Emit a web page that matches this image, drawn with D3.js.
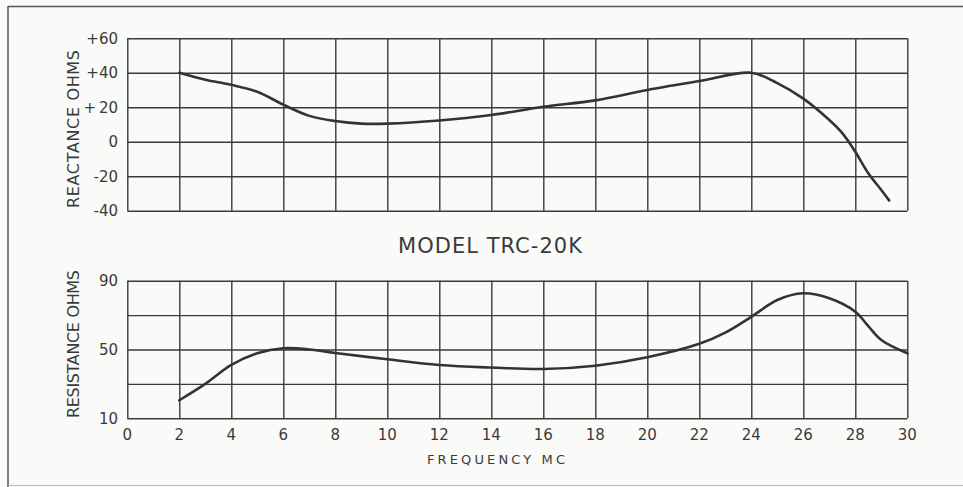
<!DOCTYPE html>
<html lang="en">

<head>
    <meta charset="UTF-8">
    <title>Model TRC-20K</title>
    <style>
        body {
            margin: 0;
            padding: 0;
            background-color: #fafaf8;
        }

        svg {
            display: block;
            font-family: "DejaVu Sans", sans-serif;
        }

        .grid line,
        .grid path {
            stroke: #3a3a3a;
            stroke-width: 1.4;
        }

        .label {
            fill: #3a3a3a;
        }
    </style>
</head>

<body>
    <svg id="chart"></svg>

    <script src="https://d3js.org/d3.v7.min.js"></script>
    <script>
        // reactance curve (top chart)
        const reactFreq = [2, 3, 4, 5, 6, 7, 8, 9, 10, 12, 14, 16, 18, 20, 22, 24, 25, 26, 27, 27.5, 28, 28.5, 29, 29.3];
        const reactance = [40, 36, 33, 29, 21.5, 15, 12, 10.5, 10.5, 12.3, 15.5, 20.3, 24, 30, 35.2, 40, 34, 25, 12.6, 5, -5.8, -18.3, -28, -34];

        // resistance curve (bottom chart)
        const resFreq = [2, 3, 4, 5, 6, 7, 8, 10, 12, 14, 16, 18, 20, 22, 23, 24, 25, 26, 27, 28, 28.5, 29, 30];
        const resistance = [20.5, 30, 41, 47.8, 50.7, 50, 48, 44.3, 41, 39.5, 38.7, 40.6, 45.5, 53.3, 59.8, 69, 78.8, 82.7, 79.8, 72, 63.6, 55.5, 47.8];

        // ticks
        const freqTicks = [0, 2, 4, 6, 8, 10, 12, 14, 16, 18, 20, 22, 24, 26, 28, 30];
        const reactTicks = [-40, -20, 0, 20, 40, 60];
        const reactLabels = ["-40", "-20", "0", "+ 20", "+40", "+60"];
        const resTicks = [10, 30, 50, 70, 90];
        const resLabels = [10, 50, 90];

        const width = 963;
        const height = 487;

        const svg = d3.select('#chart')
            .attr('width', width)
            .attr('height', height);

        // page frame
        svg.append('line').attr('x1', 8).attr('x2', width).attr('y1', 6.5).attr('y2', 6.5)
            .attr('stroke', '#555').attr('stroke-width', 1.5);
        svg.append('line').attr('x1', 8).attr('x2', 8).attr('y1', 6).attr('y2', height)
            .attr('stroke', '#555').attr('stroke-width', 1.5);
        svg.append('line').attr('x1', 8).attr('x2', width).attr('y1', 485.5).attr('y2', 485.5)
            .attr('stroke', '#bbb').attr('stroke-width', 1);

        const x = d3.scaleLinear().domain([0, 30]).range([127.3, 907.3]);
        const yTop = d3.scaleLinear().domain([-40, 60]).range([210.7, 38.3]);
        const yBot = d3.scaleLinear().domain([10, 90]).range([418.3, 280.7]);

        function drawPanel(y, yTicks, curveX, curveY) {
            const g = svg.append('g');
            const [y0, y1] = y.range();

            // vertical grid
            g.append('g').attr('class', 'grid')
                .attr('transform', `translate(0,${y0})`)
                .call(d3.axisBottom(x).tickValues(freqTicks).tickSize(y1 - y0).tickFormat(''))
                .call(a => a.select('.domain').remove());

            // horizontal grid
            g.append('g').attr('class', 'grid')
                .attr('transform', `translate(${x(0)},0)`)
                .call(d3.axisLeft(y).tickValues(yTicks).tickSize(-(x(30) - x(0))).tickFormat(''))
                .call(a => a.select('.domain').remove());

            const line = d3.line()
                .x((d, i) => x(curveX[i]))
                .y(d => y(d))
                .curve(d3.curveCatmullRom.alpha(0.5));

            g.append('path')
                .datum(curveY)
                .attr('d', line)
                .attr('fill', 'none')
                .attr('stroke', '#333')
                .attr('stroke-width', 2.6)
                .attr('stroke-linecap', 'round');
        }

        drawPanel(yTop, reactTicks, reactFreq, reactance);
        drawPanel(yBot, resTicks, resFreq, resistance);

        // y tick labels
        svg.append('g').selectAll('text')
            .data(reactTicks)
            .join('text')
            .attr('class', 'label')
            .attr('x', 118)
            .attr('y', d => yTop(d))
            .attr('dy', '0.36em')
            .attr('text-anchor', 'end')
            .attr('font-size', 15)
            .attr('word-spacing', -2)
            .text((d, i) => reactLabels[i]);

        svg.append('g').selectAll('text')
            .data(resLabels)
            .join('text')
            .attr('class', 'label')
            .attr('x', 118)
            .attr('y', d => yBot(d))
            .attr('dy', '0.36em')
            .attr('text-anchor', 'end')
            .attr('font-size', 15)
            .text(d => d);

        // x tick labels
        svg.append('g').selectAll('text')
            .data(freqTicks)
            .join('text')
            .attr('class', 'label')
            .attr('x', d => x(d))
            .attr('y', 435)
            .attr('dy', '0.36em')
            .attr('text-anchor', 'middle')
            .attr('font-size', 15)
            .text(d => d);

        // axis titles
        svg.append('text')
            .attr('class', 'label')
            .attr('transform', 'translate(79,129) rotate(-90)')
            .attr('text-anchor', 'middle')
            .attr('font-size', 16)
            .attr('textLength', 158)
            .attr('lengthAdjust', 'spacing')
            .text('REACTANCE OHMS');

        svg.append('text')
            .attr('class', 'label')
            .attr('transform', 'translate(79,344) rotate(-90)')
            .attr('text-anchor', 'middle')
            .attr('font-size', 16)
            .attr('textLength', 148)
            .attr('lengthAdjust', 'spacing')
            .text('RESISTANCE OHMS');

        svg.append('text')
            .attr('class', 'label')
            .attr('x', 490)
            .attr('y', 253)
            .attr('text-anchor', 'middle')
            .attr('font-size', 21)
            .attr('textLength', 184)
            .attr('lengthAdjust', 'spacing')
            .text('MODEL  TRC-20K');

        svg.append('text')
            .attr('class', 'label')
            .attr('x', 496)
            .attr('y', 464)
            .attr('text-anchor', 'middle')
            .attr('font-size', 13)
            .attr('textLength', 138)
            .attr('lengthAdjust', 'spacing')
            .text('FREQUENCY MC');
    </script>
</body>

</html>
